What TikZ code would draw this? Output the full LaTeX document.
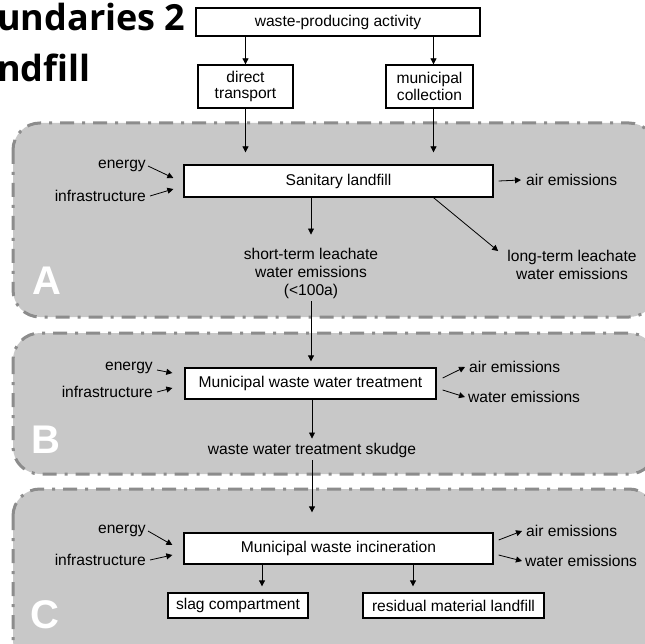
\documentclass[tikz,border=0pt]{standalone}
\usepackage{fontspec}
\setmainfont{Liberation Sans}
\newfontfamily\titlefont{Open Sans}
\usepackage{xcolor}
\usepackage{tikz}
\usetikzlibrary{arrows.meta}
\definecolor{panelgray}{RGB}{200,200,200}
\definecolor{edgegray}{RGB}{140,140,140}
\tikzset{
  panel/.style={fill=panelgray,draw=edgegray,line width=3pt,dash pattern=on 14pt off 8pt on 3pt off 8pt,rounded corners=27pt},
  proc/.style={draw,line width=1.3pt,fill=white,inner sep=0pt,align=center},
  lbl/.style={inner sep=0pt,align=center},
  arr/.style={-{Triangle[length=6pt,width=6pt]},line width=0.8pt},
  tag/.style={text=white,font=\bfseries\fontsize{40}{40}\selectfont,inner sep=0pt}
}
\begin{document}
\begin{tikzpicture}[x=1pt,y=-1pt,font=\fontsize{15.6}{18}\selectfont]
        \useasboundingbox (0,0) rectangle (645,644);
        \draw[panel] (13,123) rectangle (656,317);
        \draw[panel] (13,333) rectangle (656,474);
        \draw[panel] (13,489) rectangle (656,668);
        \node[tag] (tagA) at (47,281) {A};
        \node[tag] (tagB) at (46,440) {B};
        \node[tag] (tagC) at (45,615) {C};
        \node[anchor=base west,inner sep=0pt,font=\titlefont\bfseries\fontsize{36}{36}\selectfont] (title) at (-3,31) {undaries 2};
        \node[anchor=base west,inner sep=0pt,font=\titlefont\bfseries\fontsize{36}{36}\selectfont] (subtitle) at (-3,82) {ndfill};
        \node[proc,minimum width=284pt,minimum height=28pt] (waste) at (338,22) {waste-producing activity};
        \node[proc,minimum width=95pt,minimum height=43pt,font=\fontsize{15.6}{16.5}\selectfont] (direct) at (245.5,86.5) {direct\\transport};
        \node[proc,minimum width=87pt,minimum height=43pt,font=\fontsize{15.6}{16.5}\selectfont] (municipal) at (429.5,86.5) {municipal\\collection};
        \node[proc,minimum width=309pt,minimum height=32pt] (landfill) at (338.5,181) {Sanitary landfill};
        \node[proc,minimum width=251pt,minimum height=31pt] (wwt) at (310.5,383.5) {Municipal waste water treatment};
        \node[proc,minimum width=309pt,minimum height=31pt] (incin) at (338.5,548.5) {Municipal waste incineration};
        \node[proc,minimum width=140pt,minimum height=25pt] (slag) at (238,605.5) {slag compartment};
        \node[proc,minimum width=181pt,minimum height=25pt] (residual) at (453.5,605.5) {residual material landfill};
        \node[lbl,anchor=east] (energyA) at (146,166) {energy};
        \node[lbl,anchor=east] (infraA) at (146,196) {infrastructure};
        \node[lbl,anchor=west] (airA) at (526,180) {air emissions};
        \node[lbl] (shortA) at (311,273) {short-term leachate\\water emissions\\(<100a)};
        \node[lbl] (longA) at (572,265) {long-term leachate\\water emissions};
        \node[lbl,anchor=east] (energyB) at (153,368) {energy};
        \node[lbl,anchor=east] (infraB) at (153,392) {infrastructure};
        \node[lbl,anchor=west] (airB) at (469,367) {air emissions};
        \node[lbl,anchor=west] (waterB) at (468,397) {water emissions};
        \node[lbl] (skudge) at (312,450) {waste water treatment skudge};
        \node[lbl,anchor=east] (energyC) at (146,531) {energy};
        \node[lbl,anchor=east] (infraC) at (146,560) {infrastructure};
        \node[lbl,anchor=west] (airC) at (526,531) {air emissions};
        \node[lbl,anchor=west] (waterC) at (525,561) {water emissions};
        \draw[arr] (waste.south -| direct.north) -- (direct.north);
        \draw[arr] ([xshift=4pt]municipal.north |- waste.south) -- ([xshift=4pt]municipal.north);
        \draw[arr,shorten >=12pt] (direct.south) -- (direct.south |- landfill.north);
        \draw[arr,shorten >=12pt] ([xshift=4pt]municipal.south) -- ([xshift=4pt]municipal.south |- landfill.north);
        \draw[arr,shorten >=2pt] (landfill.south -| shortA.north) -- ([yshift=11pt]shortA.north);
        \draw[arr] ([xshift=95pt]landfill.south) -- ([xshift=-9pt,yshift=-1pt]longA.north west);
        \draw[arr,shorten >=6pt] ([yshift=-3pt]shortA.south) -- (shortA.south |- wwt.north);
        \draw[arr] (wwt.south -| skudge.north) -- ([yshift=4pt]skudge.north);
        \draw[arr,shorten >=20pt] ([yshift=-3pt]skudge.south) -- (skudge.south |- incin.north);
        \draw[arr,shorten >=6pt] ([xshift=24pt]slag.north |- incin.south) -- ([xshift=24pt]slag.north);
        \draw[arr,shorten >=6pt] ([xshift=-40.5pt]residual.north |- incin.south) -- ([xshift=-40.5pt]residual.north);
        \draw[arr] ([xshift=2pt]energyA.east) -- ([xshift=-10pt,yshift=3pt]landfill.west);
        \draw[arr] ([xshift=4pt]infraA.east) -- ([xshift=-10pt,yshift=-8pt]landfill.west);
        \draw[arr] ([xshift=5pt]landfill.east) -- ([xshift=-5pt]airA.west);
        \draw[arr] ([xshift=4pt,yshift=-2pt]energyB.east) -- ([xshift=-12pt,yshift=10.5pt]wwt.west);
        \draw[arr] ([xshift=4pt]infraB.east) -- ([xshift=-12pt,yshift=-4.5pt]wwt.west);
        \draw[arr] ([xshift=6pt,yshift=5.5pt]wwt.east) -- ([xshift=-4pt]airB.west);
        \draw[arr] ([xshift=6pt,yshift=-6.5pt]wwt.east) -- ([xshift=-3pt]waterB.west);
        \draw[arr] ([xshift=2pt]energyC.east) -- ([xshift=-11pt,yshift=3.5pt]incin.west);
        \draw[arr] ([xshift=4pt]infraC.east) -- ([xshift=-11pt,yshift=-6.5pt]incin.west);
        \draw[arr] ([xshift=5pt,yshift=8.5pt]incin.east) -- ([xshift=-4pt]airC.west);
        \draw[arr] ([xshift=5pt,yshift=-6.5pt]incin.east) -- ([xshift=-3pt]waterC.west);
\end{tikzpicture}
\end{document}
